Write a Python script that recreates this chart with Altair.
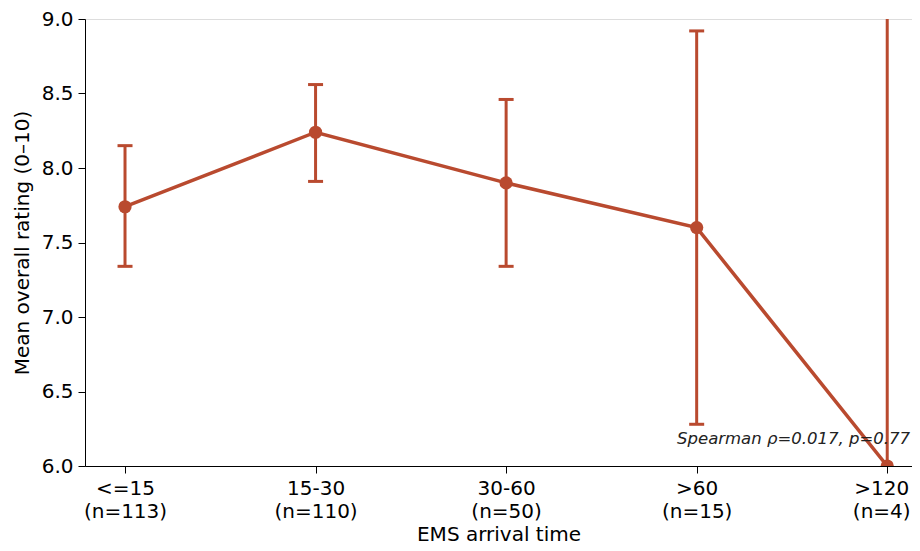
import altair as alt
import pandas as pd
import json

categories = ["<=15", "15-30", "30-60", ">60", ">120"]
n_labels = ["(n=113)", "(n=110)", "(n=50)", "(n=15)", "(n=4)"]
means = [7.74, 8.24, 7.90, 7.60, 6.00]
ci_low = [7.34, 7.91, 7.34, 6.28, 2.10]
ci_high = [8.15, 8.56, 8.46, 8.92, 9.90]
annotation = "Spearman ρ=0.017, p=0.77"

color = "#B94A2F"
font = "DejaVu Sans"

df = pd.DataFrame({
    "idx": list(range(len(categories))),
    "cat": categories,
    "mean": means,
    "lo": ci_low,
    "hi": ci_high,
})

label_arr = json.dumps([[c, n] for c, n in zip(categories, n_labels)])

xscale = alt.Scale(domain=[-0.21, 4.13], nice=False, zero=False)
yscale = alt.Scale(domain=[6.0, 9.0], nice=False, zero=False)

x_axis = alt.Axis(
    values=list(range(len(categories))),
    labelExpr=f"{label_arr}[datum.value]",
    labelOffset={"condition": {"test": "datum.value == 4", "value": -6}, "value": 0},
    title="EMS arrival time",
    grid=False,
    domainColor="black",
    tickColor="black",
    tickSize=7,
    labelPadding=5,
    labelFontSize=20,
    labelLineHeight=23,
    labelColor="black",
    titleFontSize=20,
    titleFontWeight="normal",
    titleColor="black",
    titlePadding=3,
    labelFont=font,
    titleFont=font,
)
y_axis = alt.Axis(
    values=[6.0, 6.5, 7.0, 7.5, 8.0, 8.5, 9.0],
    format=".1f",
    title="Mean overall rating (0–10)",
    grid=False,
    domainColor="black",
    tickColor="black",
    tickSize=7,
    labelPadding=5,
    labelFontSize=20,
    labelColor="black",
    titleFontSize=20,
    titleFontWeight="normal",
    titleColor="black",
    titlePadding=9,
    labelFont=font,
    titleFont=font,
)

base = alt.Chart(df)
x = alt.X("idx:Q", scale=xscale, axis=x_axis)

line = base.mark_line(color=color, strokeWidth=3.5, clip=True).encode(
    x=x, y=alt.Y("mean:Q", scale=yscale, axis=y_axis)
)
rule = base.mark_rule(color=color, strokeWidth=3, clip=True).encode(
    x=x, y=alt.Y("lo:Q", scale=yscale), y2="hi:Q"
)
cap_lo = base.mark_tick(color=color, thickness=3, size=15, orient="horizontal", opacity=1, clip=True).encode(
    x=x, y=alt.Y("lo:Q", scale=yscale)
)
cap_hi = base.mark_tick(color=color, thickness=3, size=15, orient="horizontal", opacity=1, clip=True).encode(
    x=x, y=alt.Y("hi:Q", scale=yscale)
)
pts = base.mark_point(color=color, filled=True, opacity=1, size=175, clip=True).encode(
    x=x, y=alt.Y("mean:Q", scale=yscale)
)

ann_df = pd.DataFrame({"x": [4.13], "y": [6.15], "t": [annotation]})
ann = alt.Chart(ann_df).mark_text(
    align="right", baseline="alphabetic", fontStyle="italic", fontSize=16.5,
    font=font, color="#222222", dx=-2
).encode(x=alt.X("x:Q", scale=xscale), y=alt.Y("y:Q", scale=yscale), text="t:N")

chart = alt.layer(rule, cap_lo, cap_hi, line, pts, ann).properties(
    width=827, height=447,
    autosize=alt.AutoSizeParams(type="none"),
    padding={"left": 77, "top": 11, "right": 0, "bottom": 84},
).configure_view(stroke=None).configure(background="white")

chart.save("out.html", embed_options={"renderer": "svg", "actions": False})
